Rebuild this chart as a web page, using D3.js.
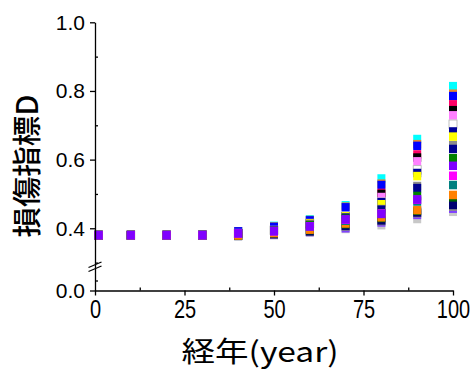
<!DOCTYPE html>
<html>
<head>
<meta charset="utf-8">
<script src="https://cdn.jsdelivr.net/npm/d3@7"></script>
<style>
  body { margin: 0; background: #fff; }
  svg { display: block; }
  .tick text { font-family: "Liberation Sans", Arial, sans-serif; fill: #000; }
</style>
</head>
<body>
<div id="chart"></div>
<script>
// years on the x axis
const years = [1, 10, 20, 30, 40, 50, 60, 70, 80, 90, 100];

// damage index D per case
const cyanCase    = [0.380, 0.380, 0.380, 0.382, 0.391, 0.407, 0.426, 0.467, 0.545, 0.660, 0.814];
const amberCase   = [0.380, 0.380, 0.380, 0.382, 0.391, 0.405, 0.424, 0.463, 0.530, 0.645, 0.792];
const blueCase    = [0.380, 0.380, 0.380, 0.382, 0.391, 0.404, 0.423, 0.461, 0.526, 0.640, 0.785];
const crimsonCase = [0.380, 0.380, 0.380, 0.380, 0.385, 0.394, 0.414, 0.435, 0.503, 0.615, 0.761];
const blackCase   = [0.380, 0.380, 0.380, 0.380, 0.385, 0.394, 0.414, 0.435, 0.500, 0.606, 0.744];
const pinkCase    = [0.380, 0.380, 0.380, 0.380, 0.385, 0.394, 0.414, 0.435, 0.491, 0.595, 0.729];
const whiteCase   = [0.380, 0.380, 0.380, 0.380, 0.385, 0.394, 0.414, 0.435, 0.476, 0.570, 0.703];
const navyCase    = [0.380, 0.380, 0.380, 0.380, 0.385, 0.394, 0.414, 0.435, 0.476, 0.561, 0.682];
const yellowCase  = [0.380, 0.380, 0.380, 0.380, 0.385, 0.394, 0.414, 0.435, 0.470, 0.552, 0.667];
const grayCase    = [0.380, 0.380, 0.380, 0.380, 0.385, 0.393, 0.410, 0.431, 0.456, 0.523, 0.642];
const navy2Case   = [0.380, 0.380, 0.380, 0.380, 0.385, 0.393, 0.410, 0.431, 0.454, 0.517, 0.631];
const greenCase   = [0.380, 0.380, 0.380, 0.380, 0.385, 0.392, 0.409, 0.428, 0.444, 0.494, 0.604];
const silverCase  = [0.380, 0.380, 0.380, 0.380, 0.378, 0.380, 0.388, 0.398, 0.409, 0.427, 0.448];
const violetCase  = [0.380, 0.380, 0.380, 0.380, 0.378, 0.381, 0.389, 0.400, 0.417, 0.439, 0.457];
const gray2Case   = [0.380, 0.380, 0.380, 0.380, 0.378, 0.382, 0.390, 0.405, 0.421, 0.444, 0.463];
const navy3Case   = [0.380, 0.380, 0.380, 0.380, 0.378, 0.383, 0.391, 0.407, 0.423, 0.446, 0.468];
const dgreenCase  = [0.380, 0.380, 0.380, 0.380, 0.378, 0.386, 0.395, 0.412, 0.430, 0.451, 0.490];
const orangeCase  = [0.380, 0.380, 0.380, 0.380, 0.379, 0.386, 0.396, 0.414, 0.432, 0.453, 0.497];
const tealCase    = [0.380, 0.380, 0.380, 0.380, 0.385, 0.391, 0.405, 0.422, 0.442, 0.478, 0.526];
const magentaCase = [0.380, 0.380, 0.380, 0.380, 0.385, 0.391, 0.406, 0.425, 0.443, 0.483, 0.553];
const purpleCase  = [0.380, 0.380, 0.380, 0.380, 0.385, 0.392, 0.4055, 0.426, 0.442, 0.484, 0.582];

const xTicks = [0, 25, 50, 75, 100];
const xMinor = [12.5, 37.5, 62.5, 87.5];
const yTicks = [0.0, 0.4, 0.6, 0.8, 1.0];
const yMinor = [0.1, 0.3, 0.5, 0.7, 0.9];

// drawing order: later cases sit on top (outside of each column first, purple last)
const cases = [
  { values: cyanCase,    color: "#00ffff" },
  { values: amberCase,   color: "#e8862a" },
  { values: blueCase,    color: "#0000ff" },
  { values: crimsonCase, color: "#ff0066" },
  { values: blackCase,   color: "#000000" },
  { values: pinkCase,    color: "#ff80ff" },
  { values: whiteCase,   color: "#ffffff", stroke: "#b0b0b0" },
  { values: navyCase,    color: "#000099" },
  { values: yellowCase,  color: "#ffff00" },
  { values: grayCase,    color: "#8c8c8c" },
  { values: navy2Case,   color: "#000090" },
  { values: greenCase,   color: "#008000" },
  { values: silverCase,  color: "#c8c8c8" },
  { values: violetCase,  color: "#8040ff" },
  { values: gray2Case,   color: "#8c8c8c" },
  { values: navy3Case,   color: "#000070" },
  { values: dgreenCase,  color: "#006400" },
  { values: orangeCase,  color: "#ff8000" },
  { values: tealCase,    color: "#008080" },
  { values: magentaCase, color: "#ff00ff" },
  { values: purpleCase,  color: "#8000ff" }
];

const width = 471, height = 370;
const plotLeft = 95, plotRight = 453, plotTop = 22.3, plotBottom = 290.5;
const markW = 8, markH = 8.5;

const svg = d3.select("#chart").append("svg")
  .attr("width", width)
  .attr("height", height);

const x = d3.scaleLinear().domain([0, 100]).range([plotLeft, plotRight]);

// broken y axis: 0..0.2 below the break, 0.3..1.0 above
const y = d3.scaleLinear()
  .domain([0, 0.2, 0.3, 1.0])
  .range([plotBottom, 270.5, 262.6, plotTop]);

/* ------- MARKERS ------- */
cases.forEach(c => {
  svg.append("g")
    .selectAll("rect")
    .data(years.map((yr, i) => ({ yr, v: c.values[i] })))
    .enter().append("rect")
    .attr("x", d => x(d.yr) - markW / 2)
    .attr("y", d => y(d.v) - markH / 2)
    .attr("width", markW)
    .attr("height", markH)
    .attr("fill", c.color)
    .attr("stroke", c.stroke || "none")
    .attr("stroke-width", 0.8);
});

/* ------- AXES ------- */
const xAxis = svg.append("g")
  .attr("transform", `translate(0,${plotBottom})`)
  .call(d3.axisBottom(x).tickValues(xTicks).tickSize(5).tickPadding(5).tickSizeOuter(0));
xAxis.selectAll("text")
  .style("font-size", "25px")
  .attr("transform", "scale(0.8,1)");

svg.append("g")
  .attr("transform", `translate(0,${plotBottom})`)
  .call(d3.axisTop(x).tickValues(xMinor).tickSize(3).tickFormat(""))
  .call(g => g.select(".domain").remove());

const yAxis = svg.append("g")
  .attr("transform", `translate(${plotLeft},0)`)
  .call(d3.axisLeft(y).tickValues(yTicks).tickSize(5).tickPadding(5)
    .tickSizeOuter(0).tickFormat(d3.format(".1f")));
yAxis.selectAll("text").style("font-size", "21px");

svg.append("g")
  .attr("transform", `translate(${plotLeft},0)`)
  .call(d3.axisRight(y).tickValues(yMinor).tickSize(3).tickFormat(""))
  .call(g => g.select(".domain").remove());

svg.selectAll(".domain, .tick line").attr("stroke", "#000").attr("stroke-width", 1.3);

// break marks on the y axis
[[267.5, 262], [271.5, 266]].forEach(([y1, y2]) => {
  svg.append("line")
    .attr("x1", plotLeft - 6.5).attr("y1", y1)
    .attr("x2", plotLeft + 6.5).attr("y2", y2)
    .attr("stroke", "#000")
    .attr("stroke-width", 1.2);
});

/* ------- TITLES ------- */
svg.append("text")
  .attr("x", 260)
  .attr("y", 362)
  .attr("text-anchor", "middle")
  .attr("textLength", 157)
  .attr("lengthAdjust", "spacingAndGlyphs")
  .style("font-family", "'Noto Sans CJK JP', sans-serif")
  .style("font-size", "28px")
  .text("経年(year)");

svg.append("text")
  .attr("transform", "translate(38,166) rotate(-90)")
  .attr("text-anchor", "middle")
  .attr("textLength", 143)
  .attr("lengthAdjust", "spacingAndGlyphs")
  .style("font-family", "'Noto Sans CJK JP', sans-serif")
  .style("font-size", "29px")
  .style("font-weight", 500)
  .text("損傷指標D");
</script>
</body>
</html>
